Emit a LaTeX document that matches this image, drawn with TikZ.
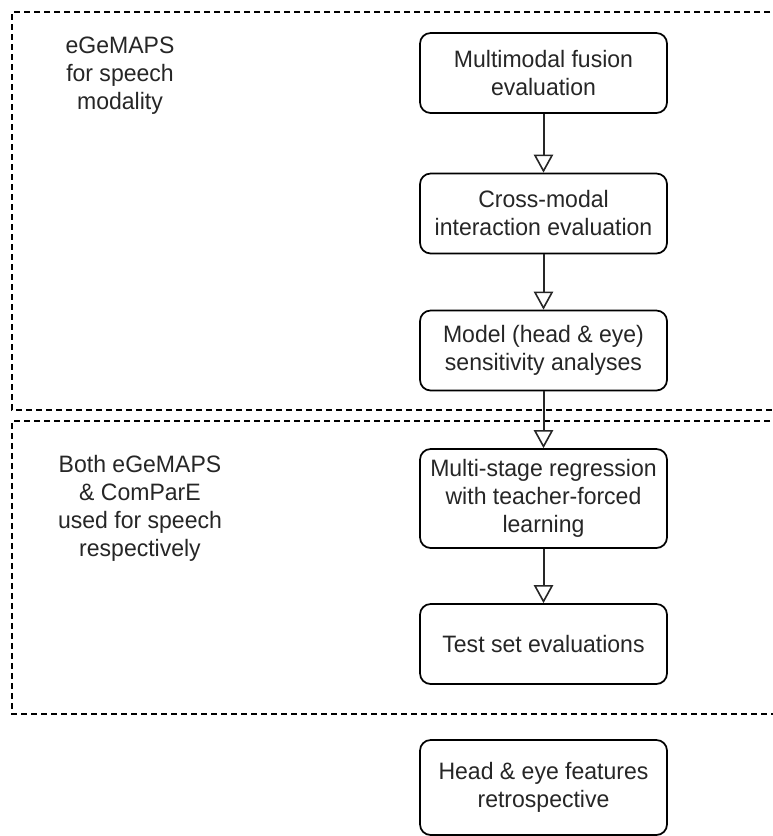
\documentclass[tikz,border=0pt]{standalone}
\usepackage{fontspec}
\setmainfont[FakeStretch=0.97]{Liberation Sans}
\usetikzlibrary{arrows.meta}
\begin{document}
\begin{tikzpicture}[x=0.75pt,y=-0.75pt,
  stepbox/.style={draw=black, line width=1.3pt, rounded corners=8pt, fill=white,
    minimum width=185.25pt, minimum height=60pt, inner sep=0pt, align=center,
    font=\fontsize{17.8pt}{21pt}\selectfont, text=black!85},
  note/.style={align=center, inner sep=0pt, font=\fontsize{17.8pt}{21pt}\selectfont, text=black!85},
  flow/.style={draw=black!85, line width=1.5pt,
    -{Triangle[open, width=14.5pt, length=13.5pt, line width=1.2pt]}},
  group/.style={draw=black, line width=1pt, dash pattern=on 4.5pt off 3pt}]
\useasboundingbox (0,0) rectangle (772,836);

% dashed groups (open on the right, running past the page edge)
\draw[group] (790,12) -- (12,12) -- (12,410) -- (790,410);
\draw[group] (790,421) -- (12,421) -- (12,714) -- (790,714);

% group captions
\node[note] (capA) at (120,76) {eGeMAPS\\for speech\\modality};
\node[note] (capB) at (140,508) {Both eGeMAPS\\\& ComParE\\used for speech\\respectively};

% process steps
\node[stepbox] (fusion) at (543.5,73) {Multimodal fusion\\evaluation};
\node[stepbox] (cross) at (543.5,213.5) {Cross-modal\\interaction evaluation};
\node[stepbox] (sens) at (543.5,350.5) {Model (head \& eye)\\sensitivity analyses};
\node[stepbox, minimum height=74.25pt] (multi) at (543.5,498.5) {Multi-stage regression\\with teacher-forced\\learning};
\node[stepbox] (test) at (543.5,644) {Test set evaluations};
\node[stepbox, minimum height=71.25pt] (retro) at (543.5,787.5) {Head \& eye features\\retrospective};

% connectors
\draw[flow] (fusion) -- (cross);
\draw[flow] (cross) -- (sens);
\draw[flow] (sens) -- (multi);
\draw[flow] (multi) -- (test);
\end{tikzpicture}
\end{document}
